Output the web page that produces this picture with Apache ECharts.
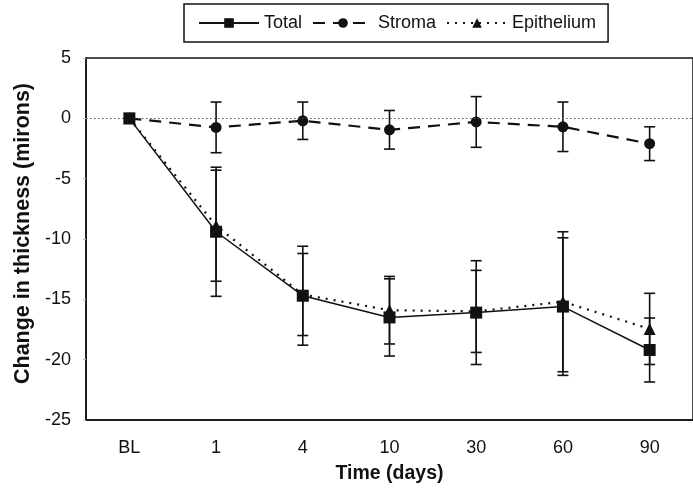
<!DOCTYPE html>
<html>
<head>
<meta charset="utf-8">
<script src="https://cdn.jsdelivr.net/npm/echarts@6/dist/echarts.min.js"></script>
<style>
  html, body { margin: 0; padding: 0; background: #fff; }
  #chart { width: 693px; height: 493px; }
</style>
</head>
<body>
<div id="chart"></div>
<script>
// Time points (days after baseline)
const categories = ['BL', '1', '4', '10', '30', '60', '90'];

// Mean change in thickness and error (±) for each layer
const totalMean   = [0, -9.4, -14.7, -16.5, -16.1, -15.6, -19.2];
const totalErr    = [0, 5.35, 4.1, 3.2, 4.3, 5.7, 2.65];
const stromaMean  = [0, -0.75, -0.2, -0.95, -0.3, -0.7, -2.1];
const stromaErr   = [0, 2.1, 1.55, 1.6, 2.1, 2.05, 1.4];
const epiMean     = [0, -8.9, -14.6, -15.9, -16.0, -15.2, -17.45];
const epiErr      = [0, 4.6, 3.4, 2.8, 3.4, 5.8, 2.95];

const yTicks = { min: -25, max: 5, interval: 5 };

const FONT = 'Liberation Sans, Arial, sans-serif';

function errorData(mean, err) {
  return mean.map((m, i) => [i, m - err[i], m + err[i]]);
}

function errorBars(name, mean, err) {
  return {
    type: 'custom',
    name: name,
    silent: true,
    z: 3,
    data: errorData(mean, err),
    renderItem: function (params, api) {
      const x = api.value(0);
      const lo = api.value(1), hi = api.value(2);
      if (hi - lo < 1e-9) return null;
      const pLo = api.coord([x, lo]);
      const pHi = api.coord([x, hi]);
      const half = 5.5;
      const style = { stroke: '#111', lineWidth: 1.6 };
      return {
        type: 'group',
        children: [
          { type: 'line', shape: { x1: pLo[0], y1: pLo[1], x2: pHi[0], y2: pHi[1] }, style: style },
          { type: 'line', shape: { x1: pLo[0] - half, y1: pLo[1], x2: pLo[0] + half, y2: pLo[1] }, style: style },
          { type: 'line', shape: { x1: pHi[0] - half, y1: pHi[1], x2: pHi[0] + half, y2: pHi[1] }, style: style }
        ]
      };
    }
  };
}

const chart = echarts.init(document.getElementById('chart'), null, { renderer: 'canvas' });

chart.setOption({
  animation: false,
  backgroundColor: '#fff',
  textStyle: { fontFamily: FONT, color: '#111' },
  legend: {
    left: 184,
    top: 4,
    padding: [10, 12, 10, 14],
    itemGap: 10,
    itemWidth: 60,
    itemHeight: 12,
    borderColor: '#111',
    borderWidth: 1.5,
    textStyle: { fontFamily: FONT, fontSize: 18, color: '#111' },
    data: ['Total', 'Stroma', 'Epithelium']
  },
  grid: {
    left: 86,
    top: 58,
    width: 615,
    height: 362,
    show: true,
    borderColor: '#111',
    borderWidth: 1.5,
    containLabel: false
  },
  xAxis: {
    type: 'category',
    data: categories,
    boundaryGap: true,
    name: 'Time (days)',
    nameLocation: 'middle',
    nameGap: 44,
    nameTextStyle: { fontFamily: FONT, fontSize: 19.5, fontWeight: 'bold', color: '#111' },
    axisLine: { onZero: false, lineStyle: { color: '#111', width: 1.5 } },
    axisTick: { show: false },
    axisLabel: { fontFamily: FONT, fontSize: 18, color: '#111', margin: 19 },
    splitLine: { show: false }
  },
  yAxis: {
    type: 'value',
    min: yTicks.min,
    max: yTicks.max,
    interval: yTicks.interval,
    name: 'Change in thickness (mirons)',
    nameLocation: 'middle',
    nameGap: 41,
    nameTextStyle: {
      fontFamily: FONT, fontSize: 21.5, fontWeight: 'bold', color: '#111',
      padding: [0, 0, 0, 11]
    },
    axisLine: { show: true, lineStyle: { color: '#111', width: 1.5 } },
    axisTick: { show: true, inside: false, length: 3, lineStyle: { color: '#bbb', width: 1 } },
    axisLabel: { fontFamily: FONT, fontSize: 18, color: '#111', margin: 15 },
    splitLine: { show: false }
  },
  series: [
    errorBars('Stroma err', stromaMean, stromaErr),
    errorBars('Epithelium err', epiMean, epiErr),
    errorBars('Total err', totalMean, totalErr),
    {
      name: 'Stroma',
      type: 'line',
      data: stromaMean,
      z: 4,
      symbol: 'circle',
      symbolSize: 11,
      itemStyle: { color: '#111' },
      lineStyle: { color: '#111', width: 2.2, type: [12, 8] },
      markLine: {
        silent: true,
        symbol: 'none',
        label: { show: false },
        lineStyle: { color: '#555', width: 1, type: [1.5, 2.5] },
        data: [{ yAxis: 0 }]
      }
    },
    {
      name: 'Epithelium',
      type: 'line',
      data: epiMean,
      z: 5,
      symbol: 'triangle',
      symbolSize: 12,
      itemStyle: { color: '#111' },
      lineStyle: { color: '#111', width: 2.2, type: [2, 6] }
    },
    {
      name: 'Total',
      type: 'line',
      data: totalMean,
      z: 6,
      symbol: 'rect',
      symbolSize: 12,
      itemStyle: { color: '#111' },
      lineStyle: { color: '#111', width: 1.5, type: 'solid' }
    }
  ]
});
</script>
</body>
</html>
